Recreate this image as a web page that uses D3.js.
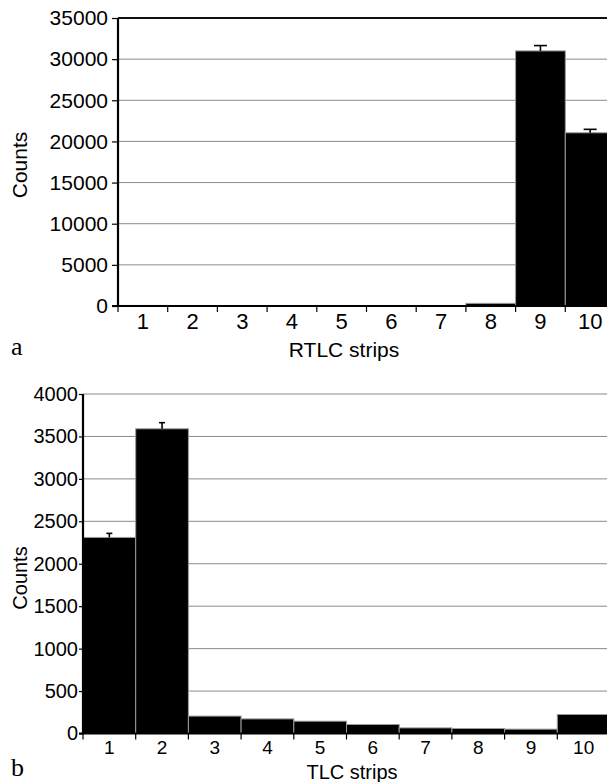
<!DOCTYPE html>
<html>
<head>
<meta charset="utf-8">
<script src="https://cdnjs.cloudflare.com/ajax/libs/d3/7.8.5/d3.min.js"></script>
<style>
  html, body { margin: 0; padding: 0; background: #fff; }
  svg { display: block; font-family: "Liberation Sans", Arial, sans-serif; }
  .grid line { stroke: #8a8a8a; stroke-width: 1; }
  .panel-letter { font-family: "Liberation Serif", "Times New Roman", serif; }
</style>
</head>
<body>
<svg id="chart" width="607" height="782"></svg>
<script>
// strip numbers (x categories)
var strips = ["1", "2", "3", "4", "5", "6", "7", "8", "9", "10"];

// panel a - RTLC strips
var rtlcCounts = [70, 50, 50, 40, 50, 50, 60, 320, 31000, 21050];
var rtlcErrors = [0, 0, 0, 0, 0, 0, 0, 0, 650, 420];
var rtlcTicks = [0, 5000, 10000, 15000, 20000, 25000, 30000, 35000];

// panel b - TLC strips
var tlcCounts = [2310, 3590, 205, 172, 145, 106, 66, 59, 51, 224];
var tlcErrors = [48, 72, 0, 0, 0, 0, 0, 0, 0, 0];
var tlcTicks = [0, 500, 1000, 1500, 2000, 2500, 3000, 3500, 4000];

var svg = d3.select("#chart");

drawPanel({
  left: 118, width: 497, top: 18, bottom: 306,
  counts: rtlcCounts, errors: rtlcErrors, ticks: rtlcTicks,
  yTickLen: 6, yLabelGap: 10, yFont: 21,
  xFont: 22, xBase: 329, capW: 13, topBorder: true,
  title: "RTLC strips", titleX: 344, titleY: 357, titleFont: 21,
  countsX: 27, countsY: 165, countsFont: 21,
  letter: "a", letterY: 355
});

drawPanel({
  left: 83, width: 527, top: 394, bottom: 733.5,
  counts: tlcCounts, errors: tlcErrors, ticks: tlcTicks,
  yTickLen: 4, yLabelGap: 5, yFont: 20,
  xFont: 19, xBase: 754, capW: 6, topBorder: false,
  title: "TLC strips", titleX: 352, titleY: 779, titleFont: 20,
  countsX: 27, countsY: 578, countsFont: 20,
  letter: "b", letterY: 776
});

function drawPanel(p) {
  var x = d3.scaleBand()
      .domain(strips)
      .range([p.left, p.left + p.width])
      .paddingInner(0).paddingOuter(0);

  var y = d3.scaleLinear()
      .domain([0, d3.max(p.ticks)])
      .range([p.bottom, p.top]);

  var g = svg.append("g");

  // horizontal grid lines
  g.append("g")
      .attr("class", "grid")
    .selectAll("line")
    .data(p.ticks.filter(function(d) { return d > 0; }))
    .enter().append("line")
      .attr("x1", p.left).attr("x2", p.left + p.width)
      .attr("y1", function(d) { return y(d); })
      .attr("y2", function(d) { return y(d); })
      .style("stroke", function(d) {
        return (p.topBorder && d === d3.max(p.ticks)) ? "#111" : null;
      })
      .style("stroke-width", function(d) {
        return (p.topBorder && d === d3.max(p.ticks)) ? 2 : null;
      });

  // bars
  g.append("g")
    .selectAll("rect")
    .data(p.counts)
    .enter().append("rect")
      .attr("x", function(d, i) { return x(strips[i]); })
      .attr("width", x.bandwidth())
      .attr("y", function(d) { return y(d); })
      .attr("height", function(d) { return y(0) - y(d); })
      .attr("fill", "#000")
      .attr("stroke", "#9a9a9a")
      .attr("stroke-width", 1);

  // error bars (upper half only)
  var err = g.append("g")
      .attr("stroke", "#000").attr("stroke-width", 1.6)
    .selectAll("g")
    .data(p.counts.map(function(d, i) { return {v: d, e: p.errors[i], s: strips[i]}; })
      .filter(function(d) { return d.e > 0; }))
    .enter().append("g");

  err.append("line")
      .attr("x1", function(d) { return x(d.s) + x.bandwidth() / 2; })
      .attr("x2", function(d) { return x(d.s) + x.bandwidth() / 2; })
      .attr("y1", function(d) { return y(d.v); })
      .attr("y2", function(d) { return y(d.v + d.e); });

  err.append("line")
      .attr("x1", function(d) { return x(d.s) + x.bandwidth() / 2 - p.capW / 2; })
      .attr("x2", function(d) { return x(d.s) + x.bandwidth() / 2 + p.capW / 2; })
      .attr("y1", function(d) { return y(d.v + d.e); })
      .attr("y2", function(d) { return y(d.v + d.e); });

  // Y axis
  var yAxis = g.append("g")
      .attr("transform", "translate(" + p.left + ",0)")
      .call(d3.axisLeft(y).tickValues(p.ticks).tickSize(p.yTickLen)
        .tickPadding(p.yLabelGap - p.yTickLen).tickFormat(d3.format("d")));
  yAxis.select(".domain").attr("stroke", "#000").attr("stroke-width", 2.2)
      .attr("d", "M0," + p.bottom + "V" + p.top);
  yAxis.selectAll(".tick line").attr("stroke", "#000").attr("stroke-width", 1.2);
  yAxis.selectAll(".tick text")
      .attr("fill", "#000")
      .style("font-size", p.yFont + "px")
      .style("font-family", "Liberation Sans, Arial, sans-serif");

  // X axis: ticks on the strip boundaries, labels centred in each strip
  var bounds = strips.map(function(s) { return x(s); }).concat([p.left + p.width]);
  g.append("line")
      .attr("x1", p.left - p.yTickLen).attr("x2", p.left + p.width)
      .attr("y1", y(0)).attr("y2", y(0))
      .attr("stroke", "#000").attr("stroke-width", 2);
  g.append("g")
    .selectAll("line")
    .data(bounds)
    .enter().append("line")
      .attr("x1", function(d) { return d; }).attr("x2", function(d) { return d; })
      .attr("y1", y(0)).attr("y2", y(0) + 6)
      .attr("stroke", "#000").attr("stroke-width", 1.2);
  g.append("g")
    .selectAll("text")
    .data(strips)
    .enter().append("text")
      .attr("x", function(d) { return x(d) + x.bandwidth() / 2; })
      .attr("y", p.xBase)
      .attr("text-anchor", "middle")
      .style("font-size", p.xFont + "px")
      .text(function(d) { return d; });

  // axis titles
  g.append("text")
      .attr("x", p.titleX).attr("y", p.titleY)
      .attr("text-anchor", "middle")
      .style("font-size", p.titleFont + "px")
      .text(p.title);
  g.append("text")
      .attr("transform", "translate(" + p.countsX + "," + p.countsY + ") rotate(-90)")
      .attr("text-anchor", "middle")
      .style("font-size", p.countsFont + "px")
      .text("Counts");

  // panel letter
  g.append("text")
      .attr("class", "panel-letter")
      .attr("x", 11).attr("y", p.letterY)
      .style("font-size", "26px")
      .text(p.letter);
}
</script>
</body>
</html>
